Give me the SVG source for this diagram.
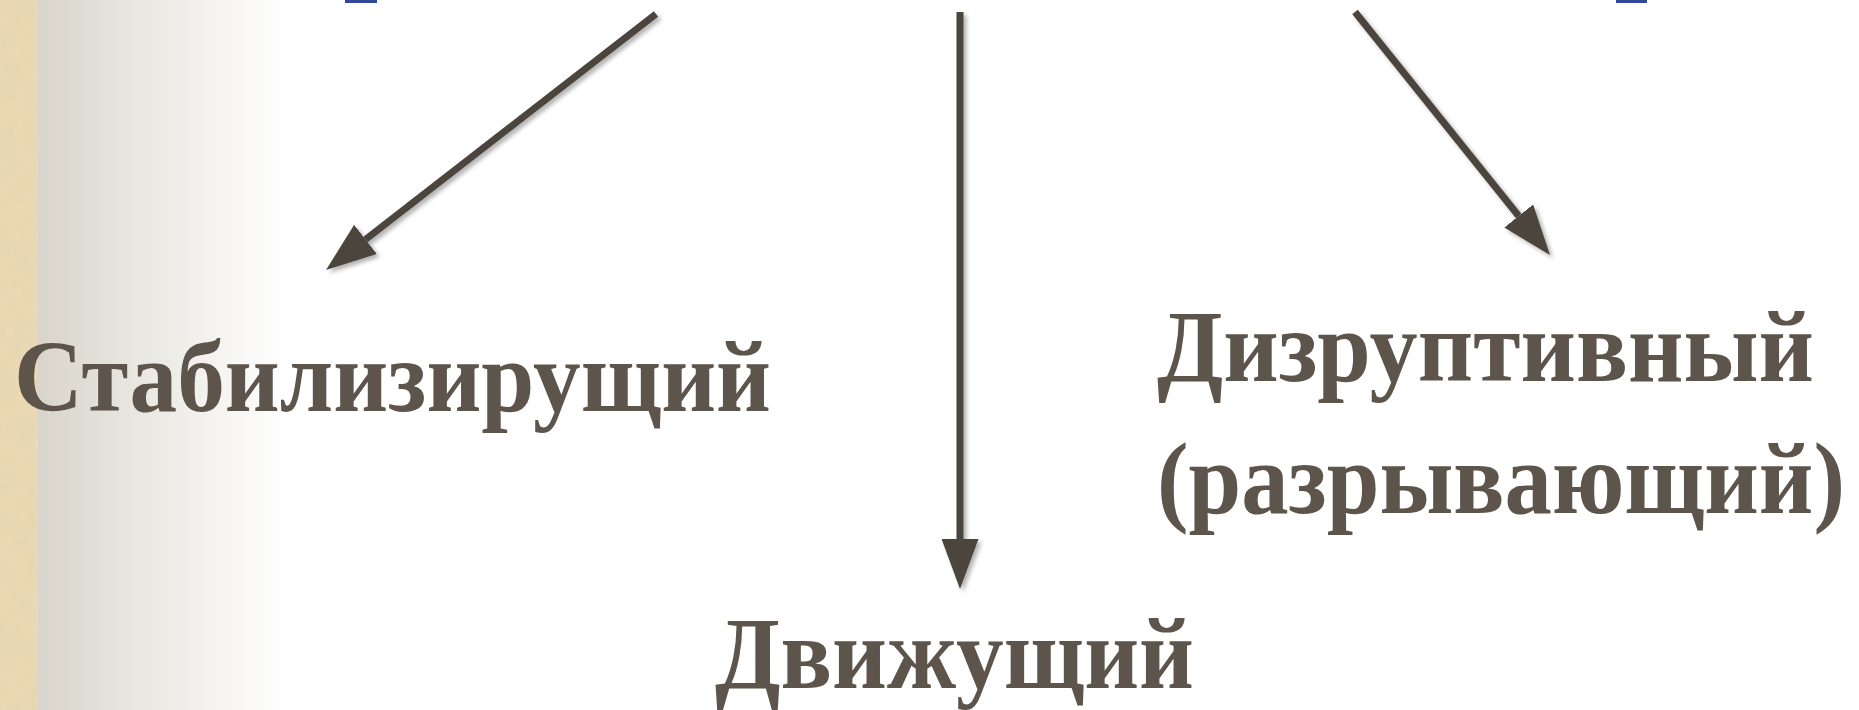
<svg xmlns="http://www.w3.org/2000/svg" width="1859" height="710" viewBox="0 0 1859 710">
  <style>
    .lbl { font-family: "Liberation Serif", "Times New Roman", serif; font-weight: bold; font-size: 102px; fill: #5d554b; }
    .conn { stroke: #4b453e; stroke-width: 7; fill: none; stroke-linecap: butt; }
    .head { fill: #4b453e; }
  </style>
  <defs>
    <linearGradient id="fade" x1="0" y1="0" x2="1" y2="0">
      <stop offset="0" stop-color="#d9d5cc"/>
      <stop offset="0.45" stop-color="#ebe9e3"/>
      <stop offset="1" stop-color="#ffffff"/>
    </linearGradient>
    <filter id="parch" x="0" y="0" width="100%" height="100%">
      <feTurbulence type="fractalNoise" baseFrequency="0.07 0.05" numOctaves="3" seed="7" result="n"/>
      <feColorMatrix in="n" type="matrix" values="0 0 0 0 0.78  0 0 0 0 0.66  0 0 0 0 0.45  1.6 0 0 0 -0.55" result="c"/>
      <feComposite in="c" in2="SourceGraphic" operator="in" result="cc"/>
      <feMerge><feMergeNode in="SourceGraphic"/><feMergeNode in="cc"/></feMerge>
    </filter>
    <filter id="shadow" x="-10%" y="-10%" width="130%" height="130%">
      <feDropShadow dx="3" dy="3" stdDeviation="2" flood-color="#000000" flood-opacity="0.3"/>
    </filter>
    <marker id="arrow" markerUnits="userSpaceOnUse" markerWidth="50" markerHeight="37" refX="0" refY="18.5" orient="auto" viewBox="0 0 50 37">
      <path class="head" d="M0,0 L50,18.5 L0,37 Z"/>
    </marker>
  </defs>

  <g id="background">
    <rect x="0" y="0" width="1859" height="710" fill="#ffffff"/>
    <rect x="38" y="0" width="250" height="710" fill="url(#fade)"/>
    <rect x="0" y="0" width="38" height="710" fill="#ead9b3" filter="url(#parch)"/>
    <rect x="345" y="0" width="32" height="3" fill="#34489a"/>
    <rect x="1616" y="0" width="31" height="3" fill="#34489a"/>
  </g>

  <g id="connectors" filter="url(#shadow)">
    <line class="conn" x1="656" y1="14" x2="365.5" y2="239.4" marker-end="url(#arrow)"/>
    <line class="conn" x1="960" y1="12" x2="960" y2="539" marker-end="url(#arrow)"/>
    <line class="conn" x1="1355" y1="12" x2="1518.7" y2="216" marker-end="url(#arrow)"/>
  </g>

  <g id="node-stabilizing">
    <text class="lbl" x="14" y="411" textLength="757" lengthAdjust="spacingAndGlyphs">Стабилизирущий</text>
  </g>
  <g id="node-driving">
    <text class="lbl" x="715" y="688" textLength="479" lengthAdjust="spacingAndGlyphs">Движущий</text>
  </g>
  <g id="node-disruptive">
    <text class="lbl" x="1157" y="381" textLength="657" lengthAdjust="spacingAndGlyphs">Дизруптивный</text>
    <text class="lbl" transform="translate(1157,513) scale(1,1.11)" x="0" y="0" style="font-size:92px" textLength="688" lengthAdjust="spacingAndGlyphs">(разрывающий)</text>
  </g>
</svg>
